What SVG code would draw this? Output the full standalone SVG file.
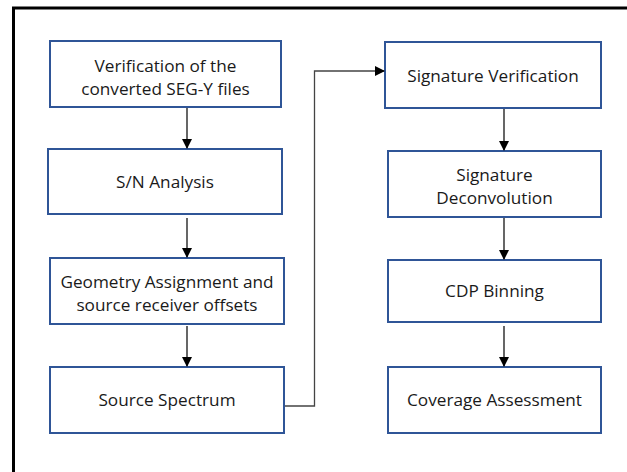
<svg xmlns="http://www.w3.org/2000/svg" width="627" height="472" viewBox="0 0 627 472">
<defs>
<style>
.box{fill:#fff;stroke:#2f5597;stroke-width:2}
.t{font-family:"Open Sans","Noto Sans",sans-serif;font-size:17.2px;fill:#1a1a1a;text-anchor:middle}
.c{fill:none;stroke:#000;stroke-width:1.2}
.c2{fill:none;stroke:#444;stroke-width:1.3}
</style>
<marker id="ah" markerWidth="10" markerHeight="10" refX="9" refY="5" orient="auto" markerUnits="userSpaceOnUse">
<path d="M0,0 L10,5 L0,10 Z" fill="#000"/>
</marker>
</defs>
<rect width="627" height="472" fill="#fff"/>
<path d="M13.5,472 V8 H627" fill="none" stroke="#000" stroke-width="3"/>
<g id="n1"><rect class="box" x="50" y="41" width="231" height="66"/><text class="t" x="165.5" y="72">Verification of the</text><text class="t" x="165.5" y="95">converted SEG-Y files</text></g>
<g id="n2"><rect class="box" x="48" y="149" width="234" height="65"/><text class="t" x="165" y="188">S/N Analysis</text></g>
<g id="n3"><rect class="box" x="50" y="258" width="234" height="66"/><text class="t" x="167" y="288">Geometry Assignment and</text><text class="t" x="167" y="311">source receiver offsets</text></g>
<g id="n4"><rect class="box" x="50" y="367" width="234" height="66"/><text class="t" x="167" y="406">Source Spectrum</text></g>
<g id="n5"><rect class="box" x="385" y="42" width="216" height="66"/><text class="t" x="493" y="82">Signature Verification</text></g>
<g id="n6"><rect class="box" x="388" y="151" width="213" height="66"/><text class="t" x="494.5" y="181">Signature</text><text class="t" x="494.5" y="204">Deconvolution</text></g>
<g id="n7"><rect class="box" x="388" y="260" width="213" height="62"/><text class="t" x="494.5" y="297">CDP Binning</text></g>
<g id="n8"><rect class="box" x="388" y="367" width="213" height="66"/><text class="t" x="494.5" y="406">Coverage Assessment</text></g>
<g id="connectors">
<path class="c" d="M187,108 V148" marker-end="url(#ah)"/>
<path class="c" d="M187,218 V257" marker-end="url(#ah)"/>
<path class="c" d="M187,326 V366" marker-end="url(#ah)"/>
<path class="c2" d="M285,406 H314.5 V71 H384" marker-end="url(#ah)"/>
<path class="c" d="M504,109 V150" marker-end="url(#ah)"/>
<path class="c" d="M504,218 V259" marker-end="url(#ah)"/>
<path class="c" d="M504,326 V366" marker-end="url(#ah)"/>
</g>
</svg>
